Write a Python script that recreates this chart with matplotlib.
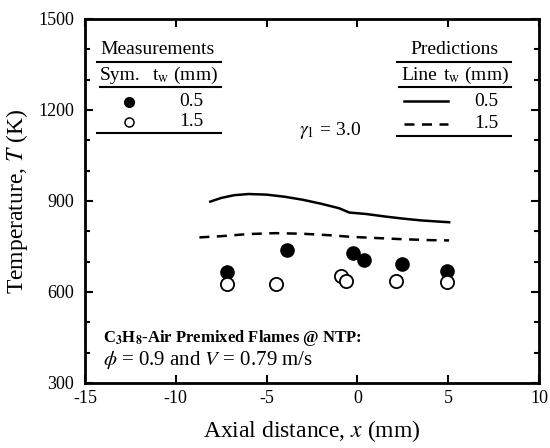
import matplotlib
matplotlib.use("Agg")
import matplotlib.pyplot as plt
from matplotlib.lines import Line2D

plt.rcParams["font.family"] = ["Liberation Serif", "DejaVu Serif"]
plt.rcParams["mathtext.fontset"] = "stix"
plt.rcParams["axes.unicode_minus"] = False

# measured temperatures
x_thin = [-7.2, -3.9, -0.25, 0.35, 2.45, 4.95]
T_thin = [665, 738, 730, 705, 692, 670]
x_thick = [-7.2, -4.5, -0.9, -0.6, 2.15, 4.95]
T_thick = [625, 625, 653, 636, 636, 632]

# predicted temperatures
x_pred_thin = [-8.1, -7.5, -6.8, -6.0, -5.0, -4.0, -3.0, -2.0, -1.0, -0.45,
               0.5, 1.5, 2.5, 3.5, 4.5, 5.05]
T_pred_thin = [898, 910, 919, 923, 921, 914, 904, 891, 876, 862,
               857, 849, 842, 836, 832, 830]
x_pred_thick = [-8.7, -7.5, -6.0, -4.5, -3.0, -1.5, -0.4, 1.0, 2.5, 4.0, 5.05]
T_pred_thick = [780, 784, 791, 794, 792, 787, 782, 778, 774, 771, 770]

x_ticks = [-15, -10, -5, 0, 5, 10]
y_ticks = [300, 600, 900, 1200, 1500]

fig = plt.figure(figsize=(5.5, 4.48), dpi=100)
ax = fig.add_axes([0.1545, 0.1451, 0.8255, 0.8125])

ax.plot(x_pred_thin, T_pred_thin, color="black", lw=1.8)
ax.plot(x_pred_thick, T_pred_thick, color="black", lw=1.8, ls=(0, (4, 3)))
ax.plot(x_thin, T_thin, "o", color="black", ms=9.5, ls="none")
ax.plot(x_thick, T_thick, "o", mfc="white", mec="black", mew=1.3, ms=9.5,
        ls="none")

ax.set_xlim(-15, 10)
ax.set_ylim(300, 1500)
ax.set_xticks(x_ticks)
ax.set_yticks(y_ticks)
ax.set_yticks(range(400, 1500, 100), minor=True)
ax.tick_params(which="both", direction="in", top=True, right=True,
               labelsize=13, width=1.5)
ax.tick_params(which="major", length=6)
ax.tick_params(which="minor", length=3.5)
ax.tick_params(axis="x", which="major", pad=5)
ax.tick_params(axis="y", which="major", pad=8)
for s in ax.spines.values():
    s.set_linewidth(2)

ax.set_xlabel("Axial distance, $x$ (mm)", fontsize=17, labelpad=8)
ax.set_ylabel("Temperature, $T$ (K)", fontsize=17, labelpad=6)

tr = ax.transAxes
fs = 14

# measurements table
ax.text(0.16, 0.915, "Measurements", transform=tr, ha="center", va="center", fontsize=fs)
ax.text(0.077, 0.846, "Sym.", transform=tr, ha="center", va="center", fontsize=fs)
ax.text(0.22, 0.846, r"t$_{\mathrm{w}}$ (mm)", transform=tr, ha="center", va="center", fontsize=fs)
ax.text(0.235, 0.773, "0.5", transform=tr, ha="center", va="center", fontsize=fs)
ax.text(0.235, 0.718, "1.5", transform=tr, ha="center", va="center", fontsize=fs)
ax.plot([0.0976], [0.773], "o", color="black", ms=7, transform=tr)
ax.plot([0.0976], [0.718], "o", mfc="white", mec="black", mew=1.1, ms=6.5, transform=tr)
for yy, x0 in [(0.881, 0.027), (0.812, 0.033), (0.686, 0.027)]:
    ax.add_line(Line2D([x0, 0.30], [yy, yy], color="black", lw=1.5, transform=tr))

# predictions table
ax.text(0.813, 0.915, "Predictions", transform=tr, ha="center", va="center", fontsize=fs)
ax.text(0.736, 0.846, "Line", transform=tr, ha="center", va="center", fontsize=fs)
ax.text(0.861, 0.846, r"t$_{\mathrm{w}}$ (mm)", transform=tr, ha="center", va="center", fontsize=fs)
ax.text(0.885, 0.773, "0.5", transform=tr, ha="center", va="center", fontsize=fs)
ax.text(0.885, 0.714, "1.5", transform=tr, ha="center", va="center", fontsize=fs)
ax.add_line(Line2D([0.703, 0.80], [0.7755, 0.7755], color="black", lw=1.8, transform=tr))
ax.add_line(Line2D([0.703, 0.80], [0.7115, 0.7115], color="black", lw=1.8,
                   ls=(0, (4, 3)), transform=tr))
for yy, x0 in [(0.883, 0.687), (0.814, 0.692), (0.679, 0.687)]:
    ax.add_line(Line2D([x0, 0.938], [yy, yy], color="black", lw=1.5, transform=tr))

ax.text(0.54, 0.695, r"$\gamma_1$ = 3.0", transform=tr, ha="center", va="center", fontsize=fs)

ax.text(0.04, 0.124, r"C$_{\mathbf{3}}$H$_{\mathbf{8}}$-Air Premixed Flames @ NTP:",
        transform=tr, ha="left", va="center", fontsize=12, fontweight="bold")
ax.text(0.04, 0.063, r"$\phi$ = 0.9 and $V$ = 0.79 m/s",
        transform=tr, ha="left", va="center", fontsize=15)

fig.savefig("out.png", dpi=100)
